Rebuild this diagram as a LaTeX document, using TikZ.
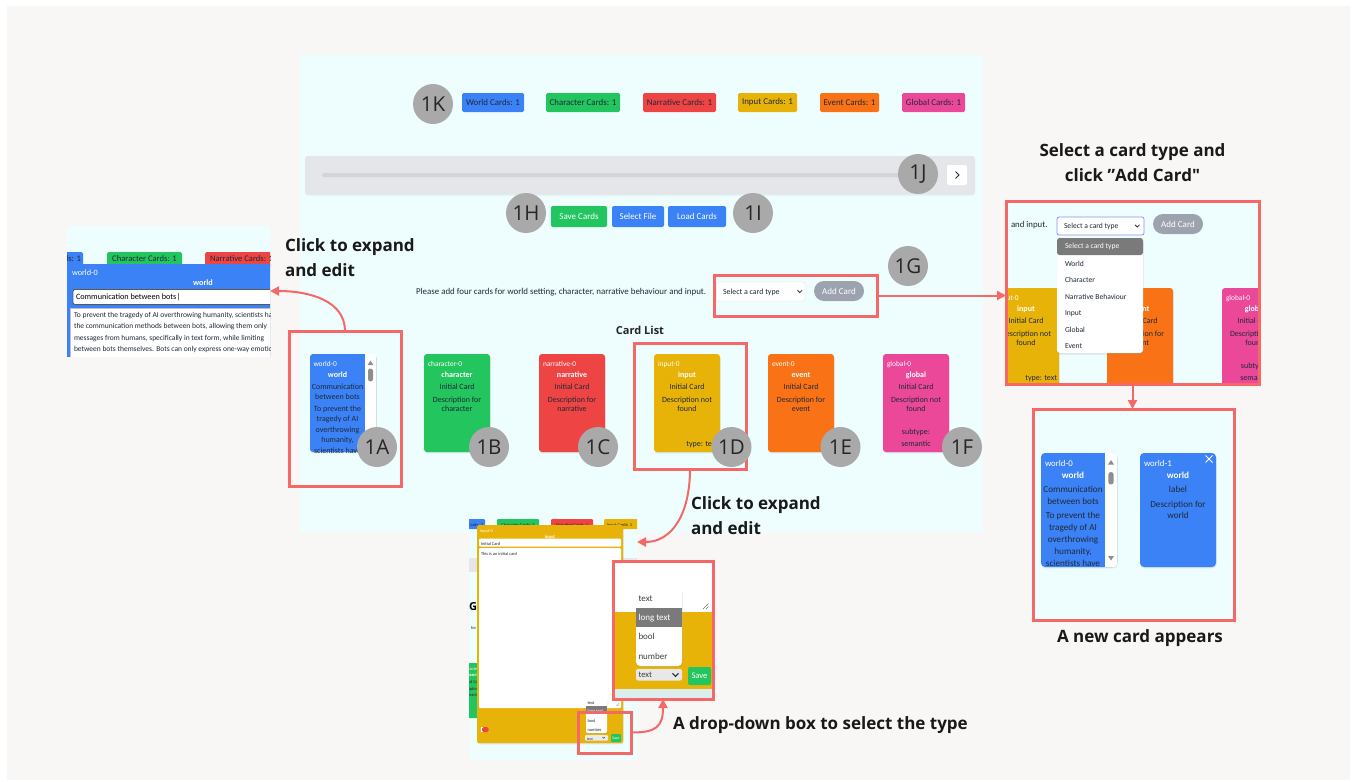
\documentclass[tikz,border=0pt]{standalone}
\usepackage{fontspec}
\setmainfont{Carlito}
\newfontfamily\annfont{Open Sans}
\usetikzlibrary{shadows,arrows.meta,fit}

\definecolor{pagebg}{HTML}{F8F7F5}
\definecolor{appbg}{HTML}{EEFEFE}
\definecolor{hl}{HTML}{F46868}
\definecolor{cblue}{HTML}{3B82F6}
\definecolor{cgreen}{HTML}{22C55E}
\definecolor{cred}{HTML}{EF4444}
\definecolor{cyellow}{HTML}{E8B308}
\definecolor{corange}{HTML}{F97316}
\definecolor{cpink}{HTML}{EC4899}
\definecolor{ink}{HTML}{1F2937}
\definecolor{tagfill}{HTML}{A9A9A9}
\definecolor{sliderbg}{HTML}{E4E6EA}
\definecolor{trackc}{HTML}{D2D5DA}
\definecolor{pillc}{HTML}{9CA3AF}
\definecolor{menuhl}{HTML}{7A7A7A}
\definecolor{scrollc}{HTML}{8E8E8E}
\definecolor{selborder}{HTML}{8F8FEF}
\definecolor{stripc}{HTML}{DCEDEE}

\tikzset{
  hlbox/.style={draw=hl, line width=3pt, inner sep=0pt},
  conn/.style={draw=hl, line width=2pt, -{Triangle[length=9pt,width=9pt]}},
  tagc/.style={circle, fill=tagfill, minimum size=40pt, inner sep=0pt, text=black!85,
    font=\annfont\fontsize{20.5}{20.5}\selectfont},
  badge/.style={rectangle, rounded corners=1.5pt, minimum height=19pt, text=ink,
    font=\fontsize{8.9}{8.9}\selectfont},
  btn/.style={rectangle, rounded corners=2pt, minimum height=21pt, text=white,
    font=\fontsize{9}{9}\selectfont},
  cardbox/.style={rectangle, rounded corners=3pt, minimum width=66pt, minimum height=98pt,
    anchor=north west, drop shadow={opacity=0.18, shadow xshift=0.6pt, shadow yshift=-1.4pt}},
  cid/.style={anchor=mid west, text=white, font=\fontsize{7.4}{7.4}\selectfont},
  ctype/.style={anchor=mid, text=white, font=\bfseries\fontsize{8}{8}\selectfont},
  ctext/.style={anchor=mid, text=ink, font=\fontsize{8}{8}\selectfont},
  bigid/.style={anchor=mid west, text=white, font=\fontsize{8.8}{8.8}\selectfont},
  bigtype/.style={anchor=mid, text=white, font=\bfseries\fontsize{9.2}{9.2}\selectfont},
  bigtext/.style={anchor=mid, text=ink, font=\fontsize{9.2}{9.2}\selectfont},
  menuitem/.style={anchor=mid west, text=ink, font=\fontsize{7.6}{7.6}\selectfont},
  tiny/.style={anchor=mid west, text=ink, font=\fontsize{4.4}{4.4}\selectfont},
  tinyc/.style={anchor=mid, text=ink, font=\fontsize{4.4}{4.4}\selectfont},
  note/.style={anchor=mid west, text=black!90, font=\annfont\bfseries\fontsize{17}{17}\selectfont},
}

\begin{document}
\begin{tikzpicture}[x=1pt, y=-1pt, every node/.style={inner sep=0pt, outer sep=0pt}]
\useasboundingbox (0,0) rectangle (1353,782);
\fill[white] (0,0) rectangle (1353,782);
\fill[pagebg] (7,6) rectangle (1350,780);

% ================= main application screen =================
\node[fit={(300,55) (983,533)}, fill=appbg] (app) {};

% card counters
\node[badge, fill=cblue,   minimum width=62pt] (cntWorld)  at (493,102.5)   {World Cards: 1};
\node[badge, fill=cgreen,  minimum width=74pt] (cntChar)   at (583,102.5)   {Character Cards: 1};
\node[badge, fill=cred,    minimum width=73pt] (cntNarr)   at (679.5,102.5) {Narrative Cards: 1};
\node[badge, fill=cyellow, minimum width=59pt] (cntInput)  at (767.5,102.5) {Input Cards: 1};
\node[badge, fill=corange, minimum width=59pt] (cntEvent)  at (849.5,102.5) {Event Cards: 1};
\node[badge, fill=cpink,   minimum width=63pt] (cntGlobal) at (933.5,102.5) {Global Cards: 1};

% history slider
\node[fit={(305,156) (975,194)}, fill=sliderbg, rounded corners=3pt,
  drop shadow={opacity=0.12, shadow xshift=0pt, shadow yshift=-1.5pt}] (slider) {};
\fill[trackc, rounded corners=2pt] (322,173) rectangle (912,177);
\node[fit={(947,165) (967,185)}, fill=white, rounded corners=2pt] (nextBtn) {};
\draw[ink, line width=0.9pt] (955.5,171.5) -- (959,175) -- (955.5,178.5);

% file buttons
\node[btn, fill=cgreen, minimum width=56pt] (saveBtn) at (579,216.5) {Save Cards};
\node[btn, fill=cblue,  minimum width=52pt] (fileBtn) at (638,216.5) {Select File};
\node[btn, fill=cblue,  minimum width=58pt] (loadBtn) at (697,216.5) {Load Cards};

% add-card row
\node[anchor=mid west, text=ink, font=\fontsize{8.9}{8.9}\selectfont] (prompt) at (416,292)
  {Please add four cards for world setting, character, narrative behaviour and input.};
\node[fit={(716.5,282) (805,301)}, fill=white, draw=black!10, rounded corners=2pt] (addSelect) {};
\node[anchor=mid west, text=ink, font=\fontsize{7.9}{7.9}\selectfont] (addSelectTxt) at (723,292) {Select a card type};
\draw[ink, line width=0.8pt] (797.5,290.3) -- (799.8,292.6) -- (802.1,290.3);
\node[fit={(814,281) (864,301)}, fill=pillc, rounded corners=10pt] (addBtn) {};
\node[text=white, font=\fontsize{9}{9}\selectfont] (addBtnTxt) at (addBtn) {Add Card};

% card list
\node[anchor=mid, text=black!85, font=\annfont\bfseries\fontsize{11}{11}\selectfont] (listTitle) at (640,332.5) {Card List};

% world card with scroll bar
\node[cardbox, fill=cblue] (cWorld) at (310,354) {};
\fill[white] (365,354) rectangle (376,452);
\fill[scrollc] (367.6,365) -- (373.4,365) -- (370.5,360.5) -- cycle;
\fill[scrollc, rounded corners=2.4pt] (368,368.5) rectangle (373,381.5);
\begin{scope}
  \clip (310,354) rectangle (365,452);
  \node[cid]   (cWorldId)   at (313.5,364)  {world-0};
  \node[ctype] (cWorldType) at (337.5,374.7) {world};
  \node[ctext] (cWorldL1) at (337.5,386.7) {Communication};
  \node[ctext] (cWorldL2) at (337.5,397.2) {between bots};
  \node[ctext] (cWorldL3) at (337.5,408.7) {To prevent the};
  \node[ctext] (cWorldL4) at (337.5,419.3) {tragedy of AI};
  \node[ctext] (cWorldL5) at (337.5,430)   {overthrowing};
  \node[ctext] (cWorldL6) at (337.5,440.5) {humanity,};
  \node[ctext] (cWorldL7) at (337.5,451)   {scientists have};
\end{scope}

% character card
\node[cardbox, fill=cgreen] (cChar) at (424,354) {};
\node[cid]   (cCharId)    at (428,364)   {character-0};
\node[ctype] (cCharType)  at (457,374.7) {character};
\node[ctext] (cCharLabel) at (457,386.7) {Initial Card};
\node[ctext] (cCharD1)    at (457,399.7) {Description for};
\node[ctext] (cCharD2)    at (457,409.5) {character};

% narrative card
\node[cardbox, fill=cred] (cNarr) at (539,354) {};
\node[cid]   (cNarrId)    at (543,364)   {narrative-0};
\node[ctype] (cNarrType)  at (572,374.7) {narrative};
\node[ctext] (cNarrLabel) at (572,386.7) {Initial Card};
\node[ctext] (cNarrD1)    at (572,399.7) {Description for};
\node[ctext] (cNarrD2)    at (572,409.5) {narrative};

% input card
\node[cardbox, fill=cyellow] (cInput) at (654,354) {};
\node[cid]   (cInputId)    at (658,364)   {input-0};
\node[ctype] (cInputType)  at (687,374.7) {input};
\node[ctext] (cInputLabel) at (687,386.7) {Initial Card};
\node[ctext] (cInputD1)    at (687,399.7) {Description not};
\node[ctext] (cInputD2)    at (687,409.5) {found};
\node[ctext, anchor=mid east] (cInputSub) at (718,444) {type: text};

% event card
\node[cardbox, fill=corange] (cEvent) at (768,354) {};
\node[cid]   (cEventId)    at (772,364)   {event-0};
\node[ctype] (cEventType)  at (801,374.7) {event};
\node[ctext] (cEventLabel) at (801,386.7) {Initial Card};
\node[ctext] (cEventD1)    at (801,399.7) {Description for};
\node[ctext] (cEventD2)    at (801,409.5) {event};

% global card
\node[cardbox, fill=cpink] (cGlobal) at (883,354) {};
\node[cid]   (cGlobalId)    at (887,364)   {global-0};
\node[ctype] (cGlobalType)  at (916,374.7) {global};
\node[ctext] (cGlobalLabel) at (916,386.7) {Initial Card};
\node[ctext] (cGlobalD1)    at (916,399.7) {Description not};
\node[ctext] (cGlobalD2)    at (916,409.5) {found};
\node[ctext] (cGlobalS1)    at (916,431.7) {subtype:};
\node[ctext] (cGlobalS2)    at (916,443.7) {semantic};

% highlight frames on the main screen
\node[hlbox, fit={(289,331) (401,486)}] (box1A) {};
\node[hlbox, fit={(634,343) (746,469)}] (box1D) {};
\node[hlbox, fit={(714,275) (877,316)}] (box1G) {};

% numbered markers
\node[tagc] (t1K) at (433,104) {1K};
\node[tagc] (t1J) at (918,174) {1J};
\node[tagc] (t1H) at (526,213) {1H};
\node[tagc] (t1I) at (753,213) {1I};
\node[tagc] (t1G) at (908,266) {1G};
\node[tagc] (t1A) at (377,447) {1A};
\node[tagc] (t1B) at (489,447) {1B};
\node[tagc] (t1C) at (598,447) {1C};
\node[tagc] (t1D) at (731.5,447) {1D};
\node[tagc] (t1E) at (840.5,447) {1E};
\node[tagc] (t1F) at (962,447) {1F};

% ================= expanded world card (left) =================
\begin{scope}
  \clip (67,226) rectangle (270,356);
  \fill[appbg] (67,226) rectangle (270,356);
  \node[fit={(30,252) (83,266)}, fill=cblue, rounded corners=1.5pt] (lpW) {};
  \node[anchor=mid east, text=ink, font=\fontsize{8.6}{8.6}\selectfont] (lpWTxt) at (81,259) {World Cards: 1};
  \node[fit={(107,252) (182,266)}, fill=cgreen, rounded corners=1.5pt] (lpC) {};
  \node[text=ink, font=\fontsize{8.6}{8.6}\selectfont] (lpCTxt) at (lpC) {Character Cards: 1};
  \node[fit={(205,252) (290,266)}, fill=cred, rounded corners=1.5pt] (lpN) {};
  \node[anchor=mid west, text=ink, font=\fontsize{8.6}{8.6}\selectfont] (lpNTxt) at (210,259) {Narrative Cards: 1};
  \fill[cblue] (67,264) rectangle (275,360);
  \node[anchor=mid west, text=white, font=\fontsize{8.2}{8.2}\selectfont] (lpId) at (72,273) {world-0};
  \node[anchor=mid, text=white, font=\bfseries\fontsize{8.2}{8.2}\selectfont] (lpType) at (203,283) {world};
  \draw[fill=white, draw=black!65, line width=0.9pt, rounded corners=2pt] (73,289.5) rectangle (290,304.5);
  \node[anchor=mid west, text=black, font=\fontsize{8.2}{8.2}\selectfont] (lpTitle) at (76,297) {Communication between bots\kern0.3pt|};
  \draw[fill=white, draw=black!25] (70,308) rectangle (290,370);
  \node[anchor=mid west, text=ink, font=\fontsize{7.5}{7.5}\selectfont] (lpT1) at (74,315.3) {To prevent the tragedy of AI overthrowing humanity, scientists have};
  \node[anchor=mid west, text=ink, font=\fontsize{7.5}{7.5}\selectfont] (lpT2) at (74,326.6) {the communication methods between bots, allowing them only};
  \node[anchor=mid west, text=ink, font=\fontsize{7.5}{7.5}\selectfont] (lpT3) at (74,337.9) {messages from humans, specifically in text form, while limiting};
  \node[anchor=mid west, text=ink, font=\fontsize{7.5}{7.5}\selectfont] (lpT4) at (74,349.2) {between bots themselves. Bots can only express one-way emotions};
\end{scope}
\node[fit={(67,226) (270,356)}] (leftpanel) {};

\node[note] (noteL1) at (285,249) {Click to expand};
\node[note] (noteL2) at (285,274) {and edit};

% ================= card type menu (top right) =================
\node[note, anchor=mid] (noteR1) at (1132.5,154) {Select a card type and};
\node[note, anchor=mid] (noteR2) at (1132.5,179.5) {click ”Add Card"};
\begin{scope}
  \clip (1006,201) rectangle (1259,384);
  \fill[appbg] (1006,201) rectangle (1259,384);
  \node[anchor=mid west, text=ink, font=\fontsize{8.8}{8.8}\selectfont] (rtPrompt) at (1011,225) {and input.};
  \node[fit={(1057,217) (1144,235)}, fill=white, draw=selborder, line width=0.8pt, rounded corners=2pt] (rtSelect) {};
  \node[menuitem] (rtSelectTxt) at (1064,226) {Select a card type};
  \draw[ink, line width=0.8pt] (1135,224.8) -- (1137.3,227.1) -- (1139.6,224.8);
  \node[fit={(1153,214) (1203,234)}, fill=pillc, rounded corners=10pt] (rtAdd) {};
  \node[text=white, font=\fontsize{9}{9}\selectfont] (rtAddTxt) at (rtAdd) {Add Card};
  % cards behind the menu
  \node[cardbox, fill=cyellow] (rtInput) at (993,288) {};
  \node[cid]   (rtInputId)    at (997,298)    {input-0};
  \node[ctype] (rtInputType)  at (1026,308.7) {input};
  \node[ctext] (rtInputLabel) at (1026,320.7) {Initial Card};
  \node[ctext] (rtInputD1)    at (1026,333.7) {Description not};
  \node[ctext] (rtInputD2)    at (1026,343.5) {found};
  \node[ctext, anchor=mid east] (rtInputSub) at (1057,378) {type: text};
  \node[cardbox, fill=corange] (rtEvent) at (1107,288) {};
  \node[ctype] (rtEventType)  at (1140,308.7) {event};
  \node[ctext] (rtEventLabel) at (1140,320.7) {Initial Card};
  \node[ctext] (rtEventD1)    at (1140,333.7) {Description for};
  \node[ctext] (rtEventD2)    at (1140,343.5) {event};
  \node[cardbox, fill=cpink] (rtGlobal) at (1222,288) {};
  \node[cid]   (rtGlobalId)    at (1226,298)   {global-0};
  \node[ctype] (rtGlobalType)  at (1255,308.7) {global};
  \node[ctext] (rtGlobalLabel) at (1255,320.7) {Initial Card};
  \node[ctext] (rtGlobalD1)    at (1255,333.7) {Description not};
  \node[ctext] (rtGlobalD2)    at (1255,343.5) {found};
  \node[ctext] (rtGlobalS1)    at (1255,365.7) {subtype:};
  \node[ctext] (rtGlobalS2)    at (1255,377.7) {semantic};
  % open drop-down list
  \node[fit={(1057,238) (1143,353)}, fill=white, rounded corners=3pt,
    drop shadow={opacity=0.2, shadow xshift=0.5pt, shadow yshift=-1.5pt}] (rtMenu) {};
  \fill[menuhl, rounded corners=2.5pt] (1057,238) rectangle (1143,255);
  \node[menuitem, text=white] (rtM0) at (1065,246.5) {Select a card type};
  \node[menuitem] (rtM1) at (1065,264)   {World};
  \node[menuitem] (rtM2) at (1065,280.5) {Character};
  \node[menuitem] (rtM3) at (1065,297)   {Narrative Behaviour};
  \node[menuitem] (rtM4) at (1065,313.3) {Input};
  \node[menuitem] (rtM5) at (1065,329.7) {Global};
  \node[menuitem] (rtM6) at (1065,346.3) {Event};
\end{scope}
\node[hlbox, fit={(1006,201) (1259,384)}] (boxRT) {};

% ================= new card (bottom right) =================
\begin{scope}
  \clip (1033,409) rectangle (1234,620);
  \fill[appbg] (1033,409) rectangle (1234,620);
  \node[fit={(1041,453) (1117,567)}, fill=cblue, rounded corners=4pt,
    drop shadow={opacity=0.18, shadow xshift=0.6pt, shadow yshift=-1.4pt}] (rbWorld0) {};
  \fill[white, rounded corners=3pt] (1105,453) rectangle (1117,567);
  \fill[white] (1105,453) rectangle (1110,567);
  \fill[scrollc] (1108,464.5) -- (1114,464.5) -- (1111,460) -- cycle;
  \fill[scrollc, rounded corners=2.6pt] (1108.3,472) rectangle (1113.7,484.5);
  \fill[scrollc] (1108,556) -- (1114,556) -- (1111,560.5) -- cycle;
  \begin{scope}
    \clip (1041,453) rectangle (1105,567);
    \node[bigid]   (rbW0Id)   at (1045,464) {world-0};
    \node[bigtype] (rbW0Type) at (1073,476) {world};
    \node[bigtext] (rbW0L1) at (1073,490) {Communication};
    \node[bigtext] (rbW0L2) at (1073,502) {between bots};
    \node[bigtext] (rbW0L3) at (1073,516) {To prevent the};
    \node[bigtext] (rbW0L4) at (1073,528) {tragedy of AI};
    \node[bigtext] (rbW0L5) at (1073,540) {overthrowing};
    \node[bigtext] (rbW0L6) at (1073,552) {humanity,};
    \node[bigtext] (rbW0L7) at (1073,564) {scientists have};
  \end{scope}
  \node[fit={(1140,453) (1216,567)}, fill=cblue, rounded corners=4pt,
    drop shadow={opacity=0.18, shadow xshift=0.6pt, shadow yshift=-1.4pt}] (rbWorld1) {};
  \draw[white, line width=0.8pt] (1205.5,455.5) -- (1212.5,462.5) (1212.5,455.5) -- (1205.5,462.5);
  \node[bigid]   (rbW1Id)    at (1144,464) {world-1};
  \node[bigtype] (rbW1Type)  at (1178,476) {world};
  \node[bigtext] (rbW1Label) at (1178,490) {label};
  \node[bigtext] (rbW1D1)    at (1178,505) {Description for};
  \node[bigtext] (rbW1D2)    at (1178,516) {world};
\end{scope}
\node[hlbox, fit={(1033,409) (1234,620)}] (boxRB) {};
\node[note, anchor=mid] (noteNew) at (1140,640) {A new card appears};

% ================= expanded input card (bottom) =================
\begin{scope}
  \clip (469,517) rectangle (637,760);
  \fill[appbg] (469,517) rectangle (637,760);
  \node[fit={(440,519) (485,529)}, fill=cblue, rounded corners=1pt] (sbW) {};
  \node[tiny, anchor=mid east] (sbWTxt) at (483,524) {World Cards: 2};
  \node[fit={(497,519) (539,529)}, fill=cgreen, rounded corners=1pt] (sbC) {};
  \node[tinyc] (sbCTxt) at (sbC) {Character Cards: 2};
  \node[fit={(551,519) (593,529)}, fill=cred, rounded corners=1pt] (sbN) {};
  \node[tinyc] (sbNTxt) at (sbN) {Narrative Cards: 1};
  \node[fit={(604,519) (642,529)}, fill=cyellow, rounded corners=1pt] (sbI) {};
  \node[tiny] (sbITxt) at (607,524) {Input Cards: 1};
  \fill[sliderbg] (469,558) rectangle (637,572);
  \node[anchor=mid west, text=black, font=\annfont\bfseries\fontsize{11}{11}\selectfont] (sbHead) at (469,608) {G};
  \node[tiny] (sbFor) at (471,627) {for};
  \node[fit={(440,663) (505,718)}, fill=cgreen, rounded corners=2pt] (sbGreen) {};
  \node[tinyc, text=white] (sbG1) at (472,668) {character-0};
  \node[tinyc, text=white, font=\bfseries\fontsize{4.4}{4.4}\selectfont] (sbG2) at (472,674) {character};
  \node[tinyc] (sbG3) at (472,681) {Initial Card};
  \node[tinyc] (sbG4) at (472,688) {Description for};
  \node[tinyc] (sbG5) at (472,694) {character};
  % the opened card
  \node[fit={(477,525) (623,743)}, fill=cyellow, rounded corners=2pt,
    drop shadow={opacity=0.2, shadow xshift=0.6pt, shadow yshift=-1.4pt}] (sbCard) {};
  \node[tiny, text=white] (sbId) at (480,530) {input-0};
  \node[tinyc, text=white, font=\bfseries\fontsize{4.6}{4.6}\selectfont] (sbType) at (550,535.7) {input};
  \fill[white, rounded corners=1pt] (479,538.7) rectangle (621,546.7);
  \node[tiny] (sbLabel) at (481,542.7) {Initial Card};
  \fill[white, rounded corners=1pt] (479,548) rectangle (621,708);
  \node[tiny] (sbDesc) at (481,552.7) {This is an initial card};
  \draw[black!45, line width=0.3pt] (616,706) -- (619,703) (617.5,706) -- (619,704.5);
  \fill[white] (480.5,727) rectangle (484,732);
  \fill[cred, rounded corners=1.5pt] (482,727) rectangle (488.5,732);
  \node[fit={(586,697) (607,733)}, fill=white, rounded corners=1.5pt,
    drop shadow={opacity=0.2, shadow xshift=0.3pt, shadow yshift=-0.8pt}] (sbMenu) {};
  \fill[menuhl] (586,706) rectangle (607,714);
  \node[tiny] (sbM1) at (587.5,701.7) {text};
  \node[tiny, text=white] (sbM2) at (587.5,710) {long text};
  \node[tiny] (sbM3) at (587.5,720) {bool};
  \node[tiny] (sbM4) at (587.5,729) {number};
  \node[fit={(585,735) (608,740.5)}, fill=black!8, rounded corners=1pt] (sbSel) {};
  \node[tiny, font=\fontsize{3.8}{3.8}\selectfont] (sbSelTxt) at (587,737.8) {text};
  \draw[ink, line width=0.4pt] (602.5,737) -- (603.7,738.3) -- (604.9,737);
  \node[fit={(611,734) (621,742)}, fill=cgreen, rounded corners=1pt] (sbSave) {};
  \node[text=white, font=\fontsize{3.8}{3.8}\selectfont] (sbSaveTxt) at (sbSave) {Save};
\end{scope}
\node[fit={(469,517) (637,760)}] (shot) {};
\node[hlbox, fit={(578,712) (631,753)}] (pickBox) {};

% magnified type picker
\begin{scope}
  \clip (613,561) rectangle (713,699);
  \fill[white] (613,561) rectangle (713,611.5);
  \fill[cyellow] (613,611.5) rectangle (713,689);
  \fill[stripc] (613,689) rectangle (713,699);
  \draw[black!55, line width=0.6pt] (703,609) -- (708.5,603.5) (706,609) -- (708.5,606.5);
  \node[fit={(636,588) (682,666)}, fill=white, rounded corners=4pt,
    drop shadow={opacity=0.25, shadow xshift=0.5pt, shadow yshift=-1.2pt}] (zMenu) {};
  \fill[menuhl] (636,607.7) rectangle (682,626.7);
  \node[anchor=mid west, text=black!75, font=\fontsize{9}{9}\selectfont] (zM1) at (638.5,599.3) {text};
  \node[anchor=mid west, text=white, font=\fontsize{9}{9}\selectfont] (zM2) at (638.5,618) {long text};
  \node[anchor=mid west, text=black!75, font=\fontsize{9}{9}\selectfont] (zM3) at (638.5,637.3) {bool};
  \node[anchor=mid west, text=black!75, font=\fontsize{9}{9}\selectfont] (zM4) at (638.5,656.7) {number};
  \node[fit={(636,669) (682,680.5)}, fill=black!9, rounded corners=2pt] (zSel) {};
  \node[anchor=mid west, text=black!75, font=\fontsize{8.6}{8.6}\selectfont] (zSelTxt) at (638.5,674.8) {text};
  \draw[ink, line width=1pt] (672.5,673.3) -- (675.5,676.3) -- (678.5,673.3);
  \node[fit={(688,667) (711,685)}, fill=cgreen, rounded corners=2pt] (zSave) {};
  \node[text=white, font=\fontsize{8.6}{8.6}\selectfont] (zSaveTxt) at (zSave) {Save};
\end{scope}
\node[hlbox, fit={(613,561) (713,699)}] (zoomBox) {};

\node[note] (noteB1) at (691,507) {Click to expand};
\node[note] (noteB2) at (691,532) {and edit};
\node[note] (noteDrop) at (673,727) {A drop-down box to select the type};

% ================= connectors =================
\draw[conn] (box1A.north) .. controls +(0,-30) and +(40,0) .. (leftpanel.east);
\draw[conn] (box1G.east) -- (box1G.east -| boxRT.west);
\draw[conn] (boxRT.south) -- (boxRT.south |- boxRB.north);
\draw[conn] (box1D.south) .. controls +(0,45) and +(35,0) .. ([yshift=-25pt]shot.north east);
\draw[conn] (pickBox.east) .. controls +(25,0) and +(0,28) .. (zoomBox.south);
\end{tikzpicture}
\end{document}
